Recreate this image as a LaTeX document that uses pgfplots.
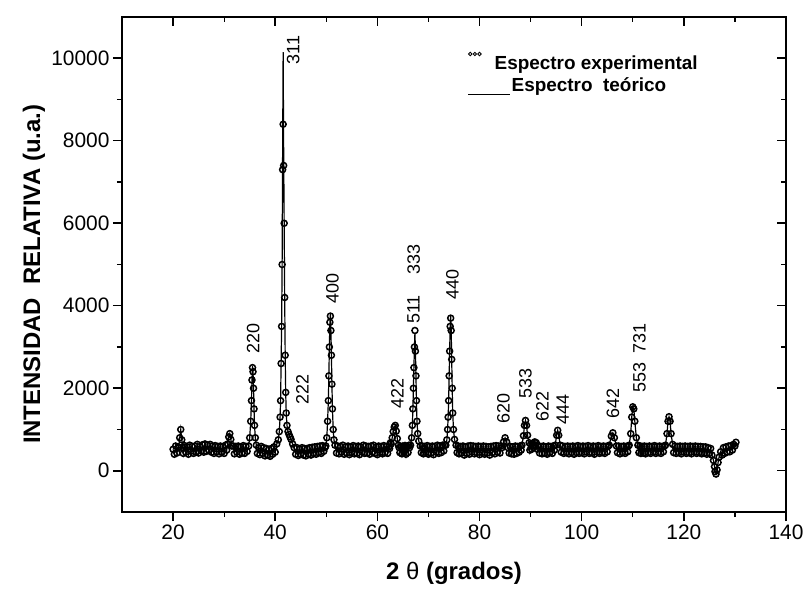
\documentclass[border=0pt]{standalone}
\usepackage{pgfplots}
\pgfplotsset{compat=1.18}
\usepackage{pgfplotstable}
\usepackage{fontspec}
\setmainfont{Liberation Sans}
\newcommand{\tickfont}{\fontsize{21}{25}\selectfont}
\newcommand{\labfont}{\fontsize{24}{28}\selectfont\bfseries}
\newcommand{\pkfont}{\fontsize{18}{21}\selectfont}
\newcommand{\legfont}{\fontsize{19}{22}\selectfont\bfseries}

\pgfplotstableread{
x exp teo
20.0 520 520
20.25 400 400
20.5 600 600
20.75 430 430
21.0 580 580
21.1 560 560
21.3 800 800
21.5 1000 1000
21.7 750 750
21.9 560 560
22.0 420 420
22.25 610 610
22.5 450 450
22.75 580 580
23.0 400 400
23.25 620 620
23.5 470 470
23.75 590 590
24.0 420 420
24.25 600 600
24.5 460 460
24.75 640 640
25.0 430 430
25.25 590 590
25.5 480 480
25.75 630 630
26.0 450 450
26.25 650 650
26.5 470 470
26.75 620 620
27.0 500 500
27.25 640 640
27.5 450 450
27.75 600 600
28.0 420 420
28.25 610 610
28.5 460 460
28.75 590 590
29.0 410 410
29.25 600 600
29.5 450 450
29.75 580 580
30.0 420 420
30.25 620 620
30.5 500 500
30.7 650 650
30.9 820 820
31.1 900 900
31.3 760 760
31.5 600 600
31.8 600 600
32.0 410 410
32.25 590 590
32.5 450 450
32.75 600 600
33.0 400 400
33.25 580 580
33.5 430 430
33.75 610 610
34.0 420 420
34.25 590 590
34.5 470 470
34.8 600 600
35.0 800 800
35.2 1200 1200
35.35 1700 1700
35.45 2200 2200
35.55 2500 2550
35.65 2400 2400
35.75 2000 2000
35.85 1500 1500
35.95 1100 1100
36.1 800 800
36.3 620 620
36.5 420 420
36.75 560 560
37.0 390 390
37.25 590 590
37.5 420 420
37.75 560 560
38.0 360 360
38.25 540 540
38.5 380 380
38.75 520 520
39.0 350 350
39.25 540 540
39.5 400 400
39.75 580 580
40.0 450 450
40.3 650 650
40.6 750 750
40.8 950 950
40.95 1300 1300
41.05 1700 1700
41.15 2600 2600
41.25 3500 3500
41.35 5000 5000
41.45 7300 7800
41.55 8400 10150
41.65 7400 7800
41.75 6000 6000
41.85 4200 4200
41.95 2800 2800
42.05 1900 1900
42.15 1400 1400
42.3 1100 1100
42.5 950 950
42.7 880 880
42.9 820 820
43.1 760 760
43.4 650 650
43.7 560 560
44.0 400 400
44.25 560 560
44.5 370 370
44.75 530 530
45.0 400 400
45.25 560 560
45.5 380 380
45.75 540 540
46.0 360 360
46.25 540 540
46.5 400 400
46.75 560 560
47.0 380 380
47.25 570 570
47.5 420 420
47.75 580 580
48.0 400 400
48.25 590 590
48.5 440 440
48.75 600 600
49.0 420 420
49.25 610 610
49.5 470 470
49.75 560 560
49.9 600 600
50.1 800 800
50.25 1200 1200
50.4 1700 1700
50.5 2300 2300
50.6 3000 3000
50.7 3600 3600
50.8 3750 3800
50.9 3400 3400
51.0 2800 2800
51.1 2100 2100
51.2 1500 1500
51.35 1000 1000
51.5 750 750
51.7 620 620
52.0 430 430
52.25 600 600
52.5 410 410
52.75 590 590
53.0 450 450
53.25 620 620
53.5 400 400
53.75 580 580
54.0 430 430
54.25 600 600
54.5 390 390
54.75 580 580
55.0 440 440
55.25 610 610
55.5 410 410
55.75 590 590
56.0 420 420
56.25 600 600
56.5 390 390
56.75 580 580
57.0 450 450
57.25 620 620
57.5 420 420
57.75 600 600
58.0 430 430
58.25 590 590
58.5 400 400
58.75 600 600
59.0 450 450
59.25 620 620
59.5 420 420
59.75 580 580
60.0 390 390
60.25 600 600
60.5 440 440
60.75 590 590
61.0 410 410
61.25 610 610
61.5 440 440
61.75 590 590
62.0 420 420
62.25 580 580
62.4 540 540
62.55 680 680
62.7 650 650
62.9 800 800
63.1 950 950
63.3 1060 1060
63.5 1100 1100
63.7 960 960
63.9 780 780
64.1 620 620
64.25 560 560
64.4 440 440
64.6 590 590
64.8 410 410
65.0 600 600
65.2 440 440
65.4 610 610
65.6 400 400
65.8 590 590
66.0 440 440
66.2 620 620
66.3 560 560
66.5 620 620
66.7 800 800
66.85 1100 1100
66.95 1500 1500
67.05 2000 2000
67.15 2500 2500
67.25 3000 3000
67.35 3400 3350
67.45 2900 2900
67.55 2300 2300
67.65 1700 1700
67.75 1200 1200
67.9 900 900
68.1 720 720
68.4 600 600
68.6 440 440
68.8 600 600
69.0 410 410
69.25 590 590
69.5 440 440
69.75 610 610
70.0 400 400
70.25 590 590
70.5 430 430
70.75 600 600
71.0 390 390
71.25 590 590
71.5 450 450
71.75 620 620
72.0 420 420
72.25 600 600
72.5 440 440
72.75 620 620
73.0 480 480
73.2 630 630
73.4 620 620
73.6 750 750
73.75 1000 1000
73.85 1300 1300
73.95 1700 1700
74.05 2300 2300
74.15 2900 2900
74.25 3500 3500
74.35 3700 3750
74.45 3400 3400
74.55 2700 2700
74.65 2000 2000
74.75 1400 1400
74.9 1000 1000
75.1 760 760
75.4 620 620
75.6 440 440
75.8 600 600
76.0 410 410
76.25 590 590
76.5 430 430
76.75 600 600
77.0 380 380
77.25 580 580
77.5 420 420
77.75 600 600
78.0 400 400
78.25 610 610
78.5 450 450
78.75 600 600
79.0 410 410
79.25 590 590
79.5 440 440
79.75 600 600
80.0 390 390
80.25 590 590
80.5 440 440
80.75 600 600
81.0 400 400
81.25 590 590
81.5 430 430
81.75 580 580
82.0 380 380
82.25 590 590
82.5 440 440
82.75 600 600
83.0 410 410
83.25 610 610
83.5 450 450
83.75 600 600
84.0 430 430
84.2 600 600
84.4 560 560
84.7 700 700
85.0 800 800
85.3 700 700
85.6 560 560
85.8 430 430
86.0 590 590
86.25 410 410
86.5 580 580
86.75 400 400
87.0 600 600
87.25 420 420
87.5 590 590
87.75 450 450
88.0 600 600
88.15 500 500
88.3 620 620
88.6 850 850
88.8 1100 1100
89.0 1220 1220
89.2 1100 1100
89.4 860 860
89.7 680 680
89.85 500 500
90.0 640 640
90.2 520 520
90.4 660 660
90.6 560 560
90.8 700 700
91.0 600 600
91.1 680 680
91.3 520 520
91.5 600 600
91.75 430 430
92.0 590 590
92.25 410 410
92.5 600 600
92.75 430 430
93.0 580 580
93.25 400 400
93.5 600 600
93.75 440 440
94.0 590 590
94.25 420 420
94.5 600 600
94.65 500 500
94.8 620 620
95.1 860 860
95.3 980 980
95.5 860 860
95.8 620 620
96.0 450 450
96.25 600 600
96.5 420 420
96.75 590 590
97.0 440 440
97.25 600 600
97.5 410 410
97.75 590 590
98.0 440 440
98.25 600 600
98.5 400 400
98.75 590 590
99.0 440 440
99.25 610 610
99.5 420 420
99.75 590 590
100.0 440 440
100.25 600 600
100.5 410 410
100.75 590 590
101.0 450 450
101.25 610 610
101.5 420 420
101.75 590 590
102.0 440 440
102.25 600 600
102.5 400 400
102.75 590 590
103.0 450 450
103.25 610 610
103.5 420 420
103.75 590 590
104.0 440 440
104.25 600 600
104.5 420 420
104.75 590 590
105.0 460 460
105.2 600 600
105.4 620 620
105.8 840 840
106.1 920 920
106.4 800 800
106.8 600 600
107.0 440 440
107.25 600 600
107.5 410 410
107.75 590 590
108.0 440 440
108.25 600 600
108.5 420 420
108.75 590 590
109.0 460 460
109.15 600 600
109.3 620 620
109.6 900 900
109.8 1300 1300
110.0 1550 1550
110.2 1500 1500
110.4 1200 1200
110.7 800 800
111.0 620 620
111.2 440 440
111.4 600 600
111.6 420 420
111.8 590 590
112.0 430 430
112.25 600 600
112.5 410 410
112.75 590 590
113.0 440 440
113.25 600 600
113.5 420 420
113.75 590 590
114.0 450 450
114.25 610 610
114.5 420 420
114.75 590 590
115.0 440 440
115.25 600 600
115.5 420 420
115.75 590 590
116.0 460 460
116.2 600 600
116.4 620 620
116.7 900 900
116.9 1200 1200
117.1 1310 1310
117.3 1200 1200
117.5 900 900
117.8 640 640
118.0 440 440
118.25 600 600
118.5 420 420
118.75 590 590
119.0 440 440
119.25 600 600
119.5 410 410
119.75 590 590
120.0 450 450
120.25 600 600
120.5 420 420
120.75 590 590
121.0 440 440
121.25 600 600
121.5 410 410
121.75 590 590
122.0 450 450
122.25 600 600
122.5 420 420
122.75 590 590
123.0 440 440
123.25 590 590
123.5 410 410
123.75 580 580
124.0 430 430
124.25 580 580
124.5 400 400
124.75 560 560
125.0 420 420
125.25 540 540
125.5 380 380
125.8 250 250
126.0 100 100
126.1 -20 -20
126.3 -80 -80
126.5 20 20
126.7 200 200
126.9 330 330
127.2 460 460
127.5 380 380
127.75 560 560
128.0 420 420
128.25 580 580
128.5 450 450
128.75 600 600
129.0 460 460
129.25 610 610
129.5 500 500
129.75 640 640
130.0 600 600
130.2 690 690
}\data

\begin{document}
\begin{tikzpicture}
\useasboundingbox (-122bp,-79bp) rectangle (684bp,512bp);
\pgfplotsset{
  common/.style={
    scale only axis, width=664bp, height=495bp,
    xmin=10, xmax=140, ymin=-1000, ymax=11000,
    xtick={20,40,...,140}, ytick={0,2000,...,10000},
    scaled y ticks=false, scaled x ticks=false,
    minor x tick num=1, minor y tick num=1,
    major tick length=9bp, minor tick length=5bp,
    axis line style={line width=1.6bp},
    major tick style={line width=1.5bp, black},
    minor tick style={line width=1.3bp, black},
  }
}
\begin{axis}[common,
  tick pos=left, tick align=outside,
  ticklabel style={font=\tickfont},
  /pgf/number format/assume math mode=true,
  /pgf/number format/1000 sep={},
  xlabel={2 {\mdseries θ} (grados)},
  ylabel={INTENSIDAD\ \ RELATIVA (u.a.)},
  label style={font=\labfont},
  xlabel style={at={(axis description cs:0.5,0)}, anchor=center, yshift=-61bp},
  ylabel style={at={(axis description cs:0,0.48)}, anchor=center, yshift=88bp},
  clip=false,
  legend style={at={(rel axis cs:0.521,0.93)}, anchor=north west, draw=none, fill=none,
    font=\legfont, inner sep=0pt, row sep=5bp,
    nodes={inner sep=1bp}},
  legend cell align=left,
]
\addplot[only marks, mark=o, mark size=3bp, mark options={line width=1.5bp, black},
  legend image code/.code={\foreach \i in {0,1,2}{\draw[line width=0.9bp] (\i*4.6bp+2bp,9bp) circle (1.7bp);}}]
  table[x=x, y=exp]{\data};
\addlegendentry{\hspace{12bp}Espectro experimental}
\addplot[black, line width=1.2bp, no marks,
  legend image code/.code={\draw[line width=1.4bp, overlay] (0bp,-9bp) -- (42bp,-9bp);}]
  table[x=x, y=teo]{\data};
\addlegendentry{\hspace{29bp}Espectro\ \ teórico}

\begin{scope}[every node/.style={rotate=90, anchor=west, inner sep=0pt, font=\pkfont}]
\node at (axis cs:35.7,2840) {220};
\node at (axis cs:43.5,9850) {311};
\node at (axis cs:45.3,1600) {222};
\node at (axis cs:51.2,4050) {400};
\node at (axis cs:63.9,1500) {422};
\node at (axis cs:67.1,3560) {511};
\node at (axis cs:67.1,4750) {333};
\node at (axis cs:74.7,4150) {440};
\node at (axis cs:84.7,1140) {620};
\node at (axis cs:89.0,1750) {533};
\node at (axis cs:92.3,1190) {622};
\node at (axis cs:96.3,1110) {444};
\node at (axis cs:106.1,1260) {642};
\node at (axis cs:111.3,1900) {553};
\node at (axis cs:111.3,2840) {731};
\end{scope}
\end{axis}
\begin{axis}[common,
  tick pos=right, tick align=inside,
  xticklabels={}, yticklabels={},
]
\end{axis}
\end{tikzpicture}
\end{document}
